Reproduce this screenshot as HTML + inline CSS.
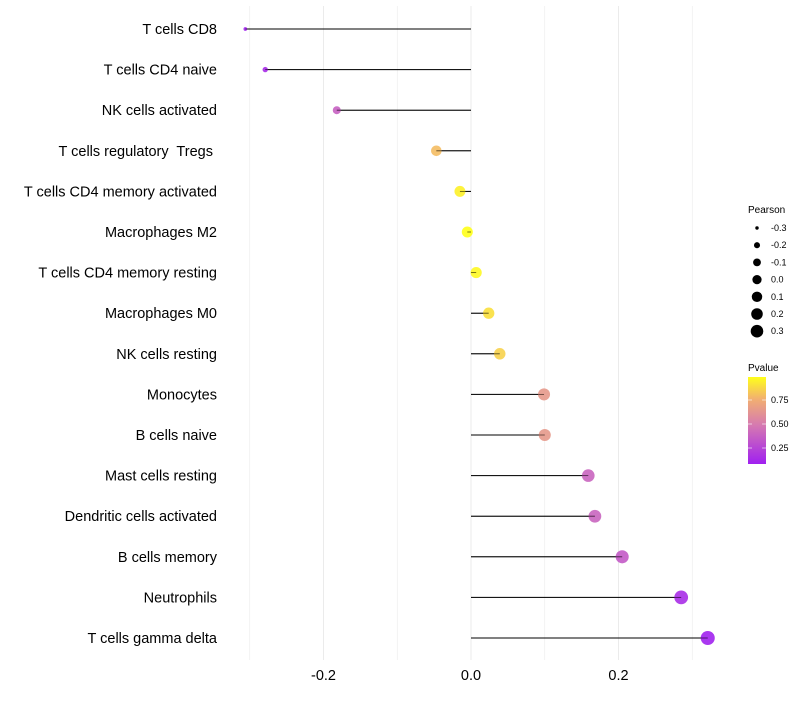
<!DOCTYPE html>
<html><head><meta charset="utf-8"><style>
body{margin:0;background:#fff;font-family:"Liberation Sans",sans-serif}
text{white-space:pre}
</style></head><body>
<svg id="c" width="800" height="700" xmlns="http://www.w3.org/2000/svg">
<defs><linearGradient id="pg" x1="0" y1="1" x2="0" y2="0">
<stop offset="0" stop-color="#a020f0"/><stop offset="0.45" stop-color="#d67ab0"/><stop offset="0.75" stop-color="#f2b070"/><stop offset="1" stop-color="#ffff1a"/></linearGradient></defs>
<g id="grid"></g><g id="marks"></g><g id="labels"></g>
<g font-size="9" fill="#000">
<text x="748" y="213" font-size="10">Pearson</text>
<g id="sizeleg"></g></g>
<g>
<text x="748" y="371" font-size="10">Pvalue</text>
<rect x="748" y="377" width="18" height="87" fill="url(#pg)"/>
<g id="cbticks" font-size="9"></g></g>
</svg>
<script>
const categories=["T cells CD8","T cells CD4 naive","NK cells activated","T cells regulatory  Tregs ","T cells CD4 memory activated","Macrophages M2","T cells CD4 memory resting","Macrophages M0","NK cells resting","Monocytes","B cells naive","Mast cells resting","Dendritic cells activated","B cells memory","Neutrophils","T cells gamma delta"];
const pearson=[-0.306,-0.279,-0.182,-0.047,-0.015,-0.005,0.007,0.024,0.039,0.099,0.100,0.159,0.168,0.205,0.285,0.321];
const pvalue=[0.10,0.14,0.38,0.80,0.95,0.99,0.97,0.90,0.86,0.65,0.65,0.40,0.40,0.35,0.15,0.10];
const xTicks=[-0.2,0.0,0.2];
const xTickLabels=["-0.2","0.0","0.2"];
const gridVals=[-0.3,-0.2,-0.1,0,0.1,0.2,0.3];
const sizeLegendVals=[-0.3,-0.2,-0.1,0.0,0.1,0.2,0.3];
const cbVals=[0.75,0.50,0.25];
const NS="http://www.w3.org/2000/svg";
const x=v=>471+v*737.5;
const y=i=>29+i*40.6;
// size scale (area), piecewise
const sBreak=[[-0.31,2.8],[-0.279,7.3],[-0.182,16],[-0.047,28],[0.33,50]];
function r(v){let a=sBreak[0],b=sBreak[1];for(let k=1;k<sBreak.length;k++){a=sBreak[k-1];b=sBreak[k];if(v<=b[0])break;}
const f=(v-a[0])/(b[0]-a[0]);return Math.sqrt(Math.max(2.5,a[1]+(b[1]-a[1])*f));}
const rl=v=>Math.sqrt(Math.max(2.5,3+(v+0.3)*61));
const cbY=p=>400+(0.75-p)*96;
function col(p){const t=Math.max(0,Math.min(1,(p-0.09)/0.9));
const stops=[[0,[160,32,240]],[0.45,[214,122,176]],[0.75,[242,176,112]],[1,[255,255,26]]];
for(let k=1;k<stops.length;k++){if(t<=stops[k][0]){const a=stops[k-1],b=stops[k],f=(t-a[0])/(b[0]-a[0]);return"rgb("+a[1].map((c,j)=>Math.round(c+(b[1][j]-c)*f)).join(",")+")";}}return"rgb(255,255,26)";}
function mk(tag,at,parent){const e=document.createElementNS(NS,tag);for(const k in at)e.setAttribute(k,at[k]);document.getElementById(parent).appendChild(e);return e;}
gridVals.forEach(v=>{const g=mk("line",{x1:x(v),x2:x(v),y1:6,y2:660,stroke:"#ebebeb","stroke-width":Math.abs(v*10)%2<0.01?1:0.6},"grid");

});
xTicks.forEach((v,i)=>{const t=mk("text",{x:x(v),y:680,"text-anchor":"middle","font-size":14.5,fill:"#000"},"labels");t.textContent=xTickLabels[i];

});
categories.forEach((c,i)=>{
const t=mk("text",{x:217,y:y(i)+5,"text-anchor":"end","font-size":14.5,fill:"#000"},"labels");t.textContent=c;


const l=mk("line",{x1:x(0),x2:x(pearson[i]),y1:y(i),y2:y(i),stroke:"#000","stroke-width":1},"marks");


const d=mk("circle",{cx:x(pearson[i]),cy:y(i),r:r(pearson[i]),fill:col(pvalue[i]),"fill-opacity":0.9},"marks");


const l2=mk("line",{x1:x(0),x2:x(pearson[i]),y1:y(i),y2:y(i),stroke:"#000","stroke-width":0.8,"stroke-opacity":0.6},"marks");


});
sizeLegendVals.forEach((v,i)=>{const cy=228+i*17.2;
const d=mk("circle",{cx:757,cy:cy,r:rl(v),fill:"#000"},"sizeleg");


const t=mk("text",{x:771,y:cy+3,"font-size":9},"sizeleg");t.textContent=v.toFixed(1);

});
cbVals.forEach(p=>{const yy=cbY(p);
const a=mk("line",{x1:748,x2:752,y1:yy,y2:yy,stroke:"#fff","stroke-width":0.6},"cbticks");


const b=mk("line",{x1:762,x2:766,y1:yy,y2:yy,stroke:"#fff","stroke-width":0.6},"cbticks");


const t=mk("text",{x:771,y:yy+3,"font-size":9},"cbticks");t.textContent=p.toFixed(2);

});
</script>
</body></html>
